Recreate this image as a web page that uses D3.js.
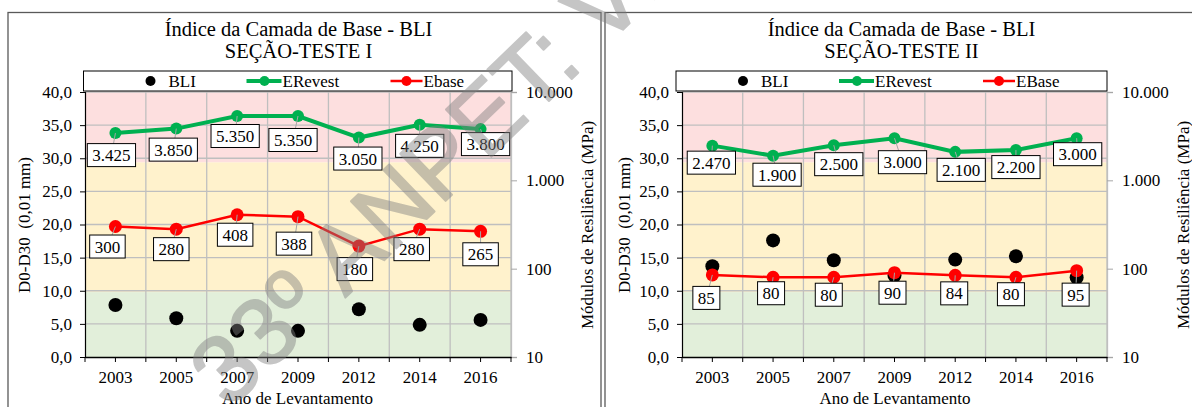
<!DOCTYPE html>
<html><head><meta charset="utf-8">
<script src="https://cdn.jsdelivr.net/npm/d3@7"></script>
<style>
html,body{margin:0;padding:0;background:#fff;}
svg{display:block;}
svg text{font-family:"Liberation Serif","Times New Roman",serif !important;}
svg text.wm{font-family:"Liberation Sans",Arial,sans-serif !important;}
</style></head>
<body>
<svg id="chart" width="1192" height="407" font-family="Liberation Serif"></svg>
<script>
// ---------------- DATA ----------------
const years = ["2003","2005","2007","2009","2012","2014","2016"];
const bli1 = [7.85, 5.85, 3.95, 3.95, 7.2, 4.85, 5.6];
const erevest1 = [3425, 3850, 5350, 5350, 3050, 4250, 3800];
const ebase1 = [300, 280, 408, 388, 180, 280, 265];
const bli2 = [13.7, 17.6, 14.6, 12.3, 14.7, 15.2, 12.0];
const erevest2 = [2470, 1900, 2500, 3000, 2100, 2200, 3000];
const ebase2 = [85, 80, 80, 90, 84, 80, 95];
const leftTicks = [0, 5, 10, 15, 20, 25, 30, 35, 40];
const rightTicks = [10, 100, 1000, 10000];
const rightTickLabels = ["10", "100", "1.000", "10.000"];
const bandLimits = [0, 9.8, 29.4, 40];
const titles1 = ["Índice da Camada de Base - BLI", "SEÇÃO-TESTE I"];
const titles2 = ["Índice da Camada de Base - BLI", "SEÇÃO-TESTE II"];
const legend1 = ["BLI", "ERevest", "Ebase"];
const legend2 = ["BLI", "ERevest", "EBase"];
const yTitle = "D0-D30\u00a0\u00a0(0,01 mm)";
const y2Title = "Módulos de Resiliência (MPa)";
const xTitle = "Ano de Levantamento";
const watermark = "33º ANPET: VERSÃO FINAL";

// ---------------- LAYOUT ----------------
const GREEN = "#00B050", RED = "#FF0000";
const bandColors = ["#E2EFDA", "#FFF2CC", "#FDDFDF"];
const SERIF = "'Liberation Serif','Times New Roman',serif";
const fmtL = d => d3.format(".1f")(d).replace(".", ",");
const fmtR = d => d3.format(",")(d).replace(/,/g, ".");

const svg = d3.select("#chart");

const panels = [
  { frameX: 8, frameW: 593, plotL: 85, plotR: 511, legL: 83.5, legR: 512, titleX: 298.5,
    titles: titles1, legend: legend1, bli: bli1, er: erevest1, eb: ebase1,
    yTitleX: 30, y2TitleX: 593, xTitleX: 297.5,
    erOff: [[-4,22],[-3,21],[-2,20],[-5,24],[-1,21],[0,21],[5,15]],
    ebOff: [[-8,20],[-5,20],[-2,20],[-4,27],[-4,23],[-8,20],[0,23]] },
  { frameX: 605, frameW: 600, plotL: 682, plotR: 1107, legL: 676, legR: 1107, titleX: 901.5,
    titles: titles2, legend: legend2, bli: bli2, er: erevest2, eb: ebase2,
    yTitleX: 630, y2TitleX: 1189, xTitleX: 895,
    erOff: [[-1,17],[4,19],[5,19],[8,24],[6,18],[0,17],[1,16]],
    ebOff: [[-6,23],[-2,16],[-5,17.5],[-2,20],[-1,18],[-5,17],[-1,24]] }
];

const plotTop = 92, plotBot = 357;

function txt(sel) { return sel.style("font-family", SERIF).attr("fill", "#000"); }

panels.forEach(p => {
  const g = svg.append("g");
  g.append("rect").attr("x", p.frameX).attr("y", 12.5).attr("width", p.frameW).attr("height", 420)
    .attr("fill", "#fff").attr("stroke", "#595959").attr("stroke-width", 1.3);

  const x = d3.scaleBand().domain(years).range([p.plotL, p.plotR]).padding(0);
  const y = d3.scaleLinear().domain([0, 40]).range([plotBot, plotTop]);
  const y2 = d3.scaleLog().domain([10, 10000]).range([plotBot, plotTop]);

  for (let i = 0; i < 3; i++) {
    g.append("rect").attr("x", p.plotL).attr("width", p.plotR - p.plotL)
      .attr("y", y(bandLimits[i + 1])).attr("height", y(bandLimits[i]) - y(bandLimits[i + 1]))
      .attr("fill", bandColors[i]);
  }
  g.selectAll(".hg").data(leftTicks.slice(1)).enter().append("line")
    .attr("x1", p.plotL).attr("x2", p.plotR).attr("y1", d => y(d)).attr("y2", d => y(d))
    .attr("stroke", "#BFBFBF").attr("stroke-width", 1.3);
  const bounds = years.map(d => x(d) + x.bandwidth());
  g.selectAll(".vg").data(bounds).enter().append("line")
    .attr("x1", d => d).attr("x2", d => d).attr("y1", plotTop).attr("y2", plotBot)
    .attr("stroke", "#BFBFBF").attr("stroke-width", 1.3);

  const ax = g.append("g").attr("transform", `translate(${p.plotL},0)`)
    .call(d3.axisLeft(y).tickValues(leftTicks).tickFormat(fmtL).tickSize(5).tickPadding(8));
  ax.attr("font-family", null);
  ax.select(".domain").attr("stroke", "#000").attr("stroke-width", 1.2);
  ax.selectAll("line").attr("stroke", "#000");
  txt(ax.selectAll("text").attr("font-size", 17));

  const ar = g.append("g").attr("transform", `translate(${p.plotR},0)`)
    .call(d3.axisRight(y2).tickValues(rightTicks).tickFormat((d, i) => rightTickLabels[i]).tickSize(6).tickPadding(9));
  ar.attr("font-family", null);
  ar.select(".domain").attr("stroke", "#BFBFBF").attr("stroke-width", 1.3);
  ar.selectAll("line").attr("stroke", "#A6A6A6");
  txt(ar.selectAll("text").attr("font-size", 17));

  const ab = g.append("g").attr("transform", `translate(0,${plotBot})`)
    .call(d3.axisBottom(x).tickSize(0).tickPadding(14));
  ab.attr("font-family", null);
  ab.select(".domain").attr("stroke", "#000").attr("stroke-width", 1.4);
  txt(ab.selectAll("text").attr("font-size", 17));
  const tickXs = [p.plotL].concat(years.map(d => x(d) + x.bandwidth() / 2), bounds);
  g.selectAll(".bt").data(tickXs).enter().append("line")
    .attr("x1", d => d).attr("x2", d => d).attr("y1", plotBot).attr("y2", plotBot + 5)
    .attr("stroke", "#000").attr("stroke-width", 1);

  const cx = d => x(d) + x.bandwidth() / 2;

  g.selectAll(".bli").data(p.bli).enter().append("circle")
    .attr("cx", (d, i) => cx(years[i])).attr("cy", d => y(d)).attr("r", 7).attr("fill", "#000");

  const lineR = d3.line().x((d, i) => cx(years[i])).y(d => y2(d));
  g.append("path").datum(p.er).attr("d", lineR).attr("fill", "none").attr("stroke", GREEN).attr("stroke-width", 4);
  g.selectAll(".erp").data(p.er).enter().append("circle")
    .attr("cx", (d, i) => cx(years[i])).attr("cy", d => y2(d)).attr("r", 6).attr("fill", GREEN);
  g.append("path").datum(p.eb).attr("d", lineR).attr("fill", "none").attr("stroke", RED).attr("stroke-width", 2.5);
  g.selectAll(".ebp").data(p.eb).enter().append("circle")
    .attr("cx", (d, i) => cx(years[i])).attr("cy", d => y2(d)).attr("r", 6.5).attr("fill", RED);

  function labels(vals, offs) {
    vals.forEach((v, i) => {
      const px = cx(years[i]), py = y2(v);
      const lx = px + offs[i][0], ly = py + offs[i][1];
      g.append("line").attr("x1", px).attr("y1", py).attr("x2", lx).attr("y2", ly)
        .attr("stroke", "#A6A6A6").attr("stroke-width", 1);
      const t = txt(g.append("text").attr("x", lx).attr("y", ly + 6).attr("text-anchor", "middle")
        .attr("font-size", 17).text(fmtR(v)));
      const w = t.node().getComputedTextLength() + 10;
      g.insert("rect", () => t.node()).attr("x", lx - w / 2).attr("y", ly - 11.5).attr("width", w).attr("height", 23)
        .attr("fill", "#fff").attr("stroke", "#000").attr("stroke-width", 1);
    });
  }
  labels(p.er, p.erOff);
  labels(p.eb, p.ebOff);

  const lg = g.append("g");
  lg.append("rect").attr("x", p.legL).attr("y", 71).attr("width", p.legR - p.legL).attr("height", 20)
    .attr("fill", "#fff").attr("stroke", "#000").attr("stroke-width", 1);
  const ly = 81;
  lg.append("circle").attr("cx", p.legL + 67).attr("cy", ly).attr("r", 5).attr("fill", "#000");
  txt(lg.append("text").attr("x", p.legL + 85).attr("y", ly + 6).attr("font-size", 17).text(p.legend[0]));
  lg.append("line").attr("x1", p.legL + 163).attr("x2", p.legL + 198).attr("y1", ly).attr("y2", ly)
    .attr("stroke", GREEN).attr("stroke-width", 4);
  lg.append("circle").attr("cx", p.legL + 181).attr("cy", ly).attr("r", 5).attr("fill", GREEN);
  txt(lg.append("text").attr("x", p.legL + 199).attr("y", ly + 6).attr("font-size", 17).text(p.legend[1]));
  lg.append("line").attr("x1", p.legL + 307).attr("x2", p.legL + 339).attr("y1", ly).attr("y2", ly)
    .attr("stroke", RED).attr("stroke-width", 2.5);
  lg.append("circle").attr("cx", p.legL + 323).attr("cy", ly).attr("r", 5).attr("fill", RED);
  txt(lg.append("text").attr("x", p.legL + 340).attr("y", ly + 6).attr("font-size", 17).text(p.legend[2]));

  txt(g.append("text").attr("x", p.titleX).attr("y", 36).attr("text-anchor", "middle").attr("font-size", 20.5).text(p.titles[0]));
  txt(g.append("text").attr("x", p.titleX).attr("y", 58).attr("text-anchor", "middle").attr("font-size", 20.5).text(p.titles[1]));

  txt(g.append("text").attr("transform", `translate(${p.yTitleX},225) rotate(-90)`).attr("text-anchor", "middle")
    .attr("font-size", 17).text(yTitle));
  txt(g.append("text").attr("transform", `translate(${p.y2TitleX},225) rotate(-90)`).attr("text-anchor", "middle")
    .attr("font-size", 17).text(y2Title));
  txt(g.append("text").attr("x", p.xTitleX).attr("y", 404).attr("text-anchor", "middle").attr("font-size", 17).text(xTitle));
});

// watermark
const wm = svg.append("g").attr("opacity", 0.45);
wm.append("text").attr("class", "wm").attr("transform", "translate(229,410) rotate(-44)")
  .style("font-family", "'Liberation Sans',Arial,sans-serif").attr("font-size", 95)
  .attr("fill", "#808080").attr("stroke", "#808080").attr("stroke-width", 2).attr("stroke-linejoin", "round")
  .text(watermark);
</script>
</body></html>
